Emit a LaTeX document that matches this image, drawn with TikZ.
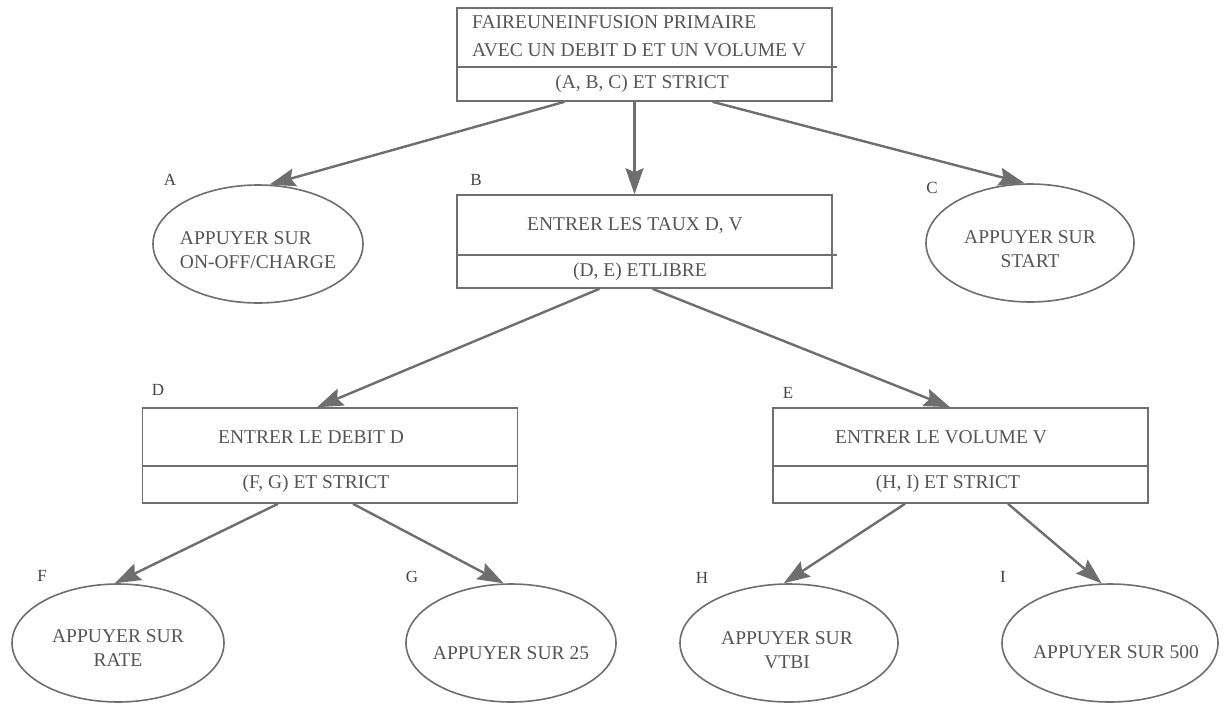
\documentclass[tikz,border=0pt]{standalone}
\usepackage{fontspec}
\setmainfont{Liberation Serif}
\usetikzlibrary{arrows.meta,shapes.geometric,calc}
\definecolor{ln}{HTML}{6E6E6E}
\definecolor{tx}{HTML}{555555}
\definecolor{lbc}{HTML}{444444}
\begin{document}
\begin{tikzpicture}[x=1pt,y=-1pt,
  boxnode/.style={draw=ln,line width=1.6pt,rectangle,inner sep=0pt},
  ellnode/.style={draw=ln,line width=1.6pt,ellipse,inner sep=0pt},
  txt/.style={text=tx,font=\fontsize{19.5}{24}\selectfont,inner sep=0pt},
  lbl/.style={text=lbc,font=\fontsize{17}{20}\selectfont,inner sep=0pt},
  divline/.style={draw=ln,line width=1.6pt},
  arr/.style={draw=ln,line width=2.4pt,-{Stealth[length=26pt,width=18pt,inset=4pt,fill=ln]}}
]
\fill[white] (0,0) rectangle (1226,704);
\useasboundingbox (0,0) rectangle (1226,704);

% top box
\node[boxnode,minimum width=375pt,minimum height=93pt] (top) at (644.5,54.5) {};
\node[txt,anchor=west] (t1) at (472,22) {FAIREUNEINFUSION PRIMAIRE};
\node[txt,anchor=west] (t2) at (472,50) {AVEC UN DEBIT D ET UN VOLUME V};
\node[txt] (t3) at (642,84) {(A, B, C) ET STRICT};
\draw[divline] ($(top.north west)+(0,60)$) -- ($(top.north east)+(4,60)$);

% box B
\node[boxnode,minimum width=375pt,minimum height=93pt] (B) at (644.5,241.5) {};
\node[txt] (b1) at (635,226) {ENTRER LES TAUX D, V};
\node[txt] (b2) at (640,272) {(D, E) ETLIBRE};
\draw[divline] ($(B.north west)+(0,61)$) -- ($(B.north east)+(4,61)$);

% box D
\node[boxnode,minimum width=375pt,minimum height=95pt] (D) at (330,455.5) {};
\node[txt] (d1) at (311,437) {ENTRER LE DEBIT D};
\node[txt] (d2) at (316,484) {(F, G) ET STRICT};
\draw[divline] ($(D.north west)+(0,59)$) -- ($(D.north east)+(0,59)$);

% box E
\node[boxnode,minimum width=375pt,minimum height=95pt] (E) at (960.5,455.5) {};
\node[txt] (e1) at (941,437) {ENTRER LE VOLUME V};
\node[txt] (e2) at (948,484) {(H, I) ET STRICT};
\draw[divline] ($(E.north west)+(0,59)$) -- ($(E.north east)+(0,59)$);

% ellipses
\node[ellnode,minimum width=210pt,minimum height=118pt] (A) at (258,244) {};
\node[txt,align=left] (At) at (258,250) {APPUYER SUR\\ON-OFF/CHARGE};
\node[ellnode,minimum width=208pt,minimum height=118pt] (C) at (1030,243) {};
\node[txt,align=center] (Ct) at (1030,249) {APPUYER SUR\\START};
\node[ellnode,minimum width=212pt,minimum height=118pt] (F) at (118,643) {};
\node[txt,align=center] (Ft) at (118,648) {APPUYER SUR\\RATE};
\node[ellnode,minimum width=210pt,minimum height=118pt] (G) at (511,643) {};
\node[txt] (Gt) at (511,653) {APPUYER SUR 25};
\node[ellnode,minimum width=218pt,minimum height=118pt] (H) at (789,643) {};
\node[txt,align=center] (Ht) at (787,650) {APPUYER SUR\\VTBI};
\node[ellnode,minimum width=216pt,minimum height=118pt] (I) at (1110,643) {};
\node[txt] (It) at (1116,652) {APPUYER SUR 500};

% letter labels
\node[lbl] (la) at (170,180) {A};
\node[lbl] (lb) at (476,180) {B};
\node[lbl] (lc) at (932,188) {C};
\node[lbl] (ld) at (158,390) {D};
\node[lbl] (le) at (788,393) {E};
\node[lbl] (lf) at (42,576) {F};
\node[lbl] (lg) at (412,577) {G};
\node[lbl] (lh) at (702,578) {H};
\node[lbl] (li) at (1003,577) {I};

% arrows
\draw[arr] ([xshift=-80pt]top.south) -- (A.79);
\draw[arr] ([xshift=-10pt]top.south) -- ([xshift=-10pt]B.north);
\draw[arr] ([xshift=68pt]top.south) -- (C.95);
\draw[arr] ([xshift=-45pt]B.south) -- ([xshift=-13pt]D.north);
\draw[arr] ([xshift=8pt]B.south) -- ([xshift=-10.5pt]E.north);
\draw[arr] ([xshift=-52pt]D.south) -- (F.93);
\draw[arr] ([xshift=23pt]D.south) -- (G.97);
\draw[arr] ([xshift=-55.5pt]E.south) -- (H.95);
\draw[arr] ([xshift=47.5pt]E.south) -- (I.98);
\end{tikzpicture}
\end{document}
